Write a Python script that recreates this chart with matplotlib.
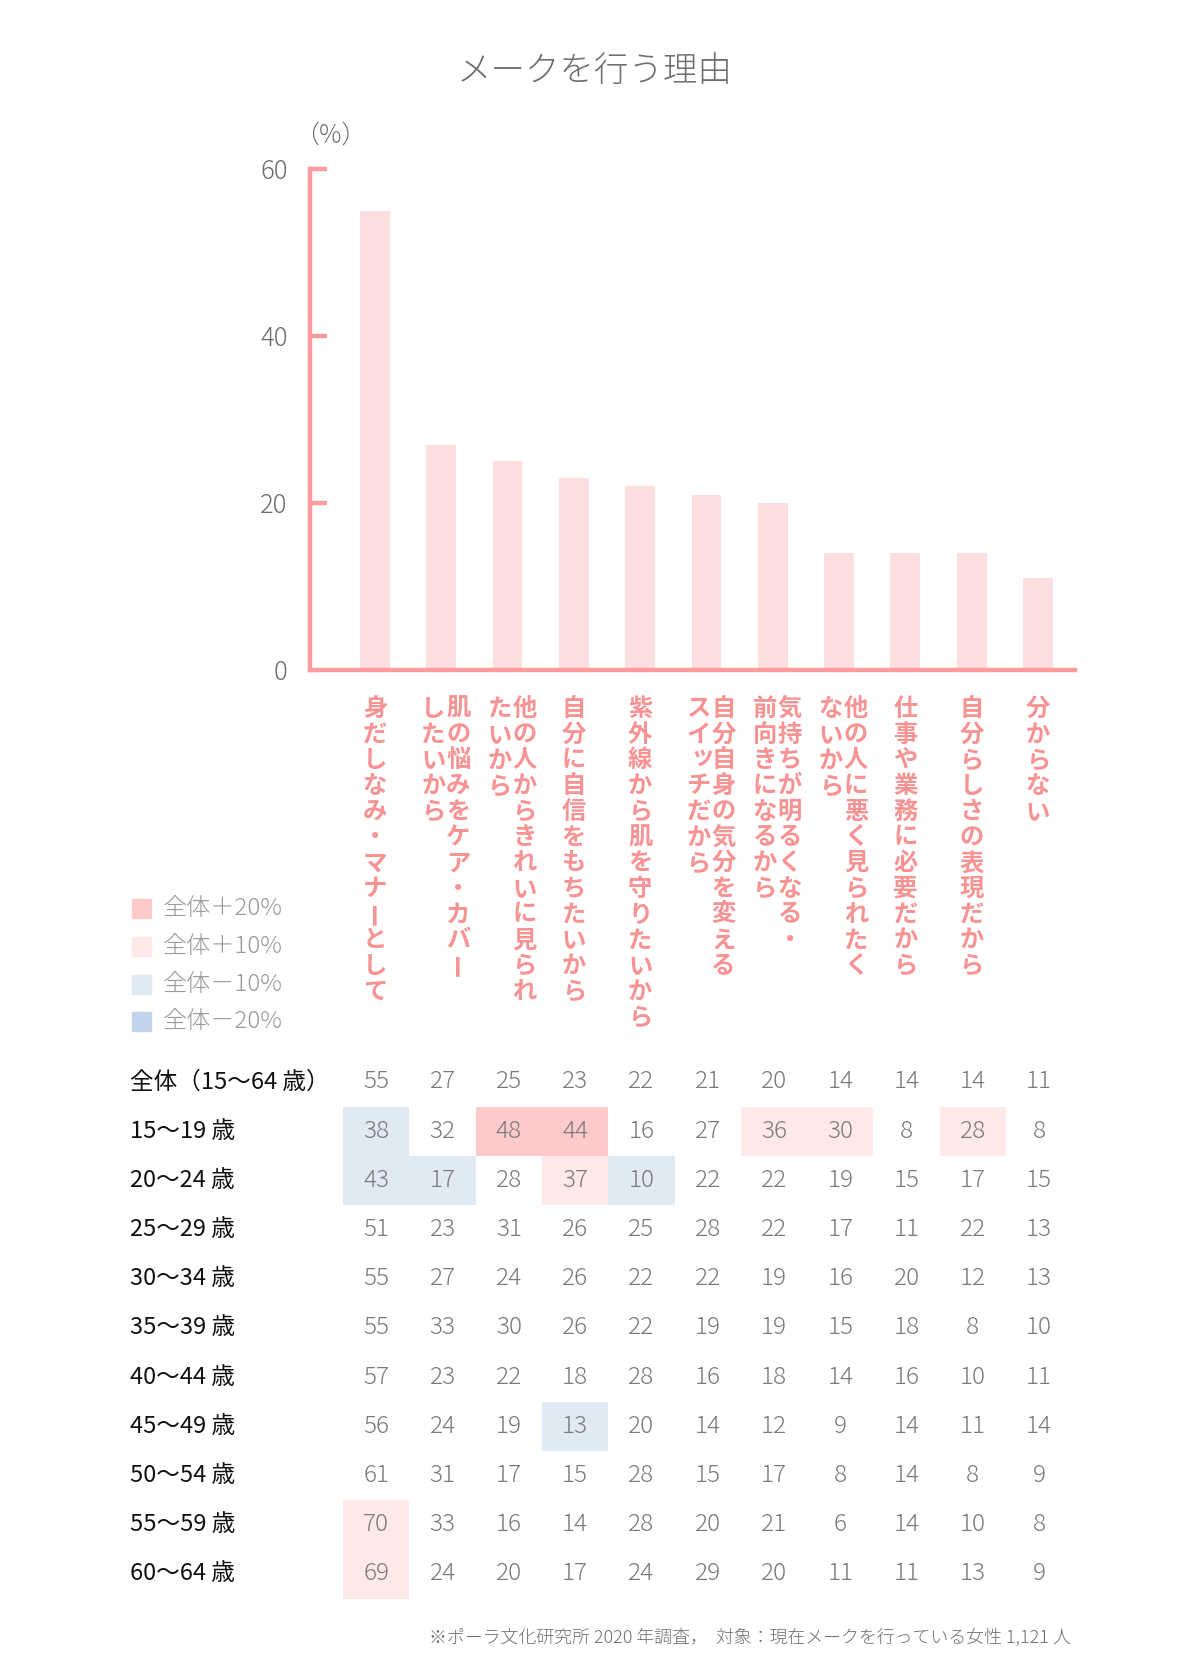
import matplotlib
matplotlib.use("Agg")
import matplotlib.pyplot as plt
import matplotlib.transforms as mtransforms
from matplotlib.patches import Rectangle

plt.rcParams['font.family'] = ['Noto Sans CJK JP', 'DejaVu Sans']

# ---- data ----
categories = [
    ["身だしなみ・マナーとして"],
    ["肌の悩みをケア・カバー", "したいから"],
    ["他の人からきれいに見られ", "たいから"],
    ["自分に自信をもちたいから"],
    ["紫外線から肌を守りたいから"],
    ["自分自身の気分を変える", "スイッチだから"],
    ["気持ちが明るくなる・", "前向きになるから"],
    ["他の人に悪く見られたく", "ないから"],
    ["仕事や業務に必要だから"],
    ["自分らしさの表現だから"],
    ["分からない"],
]
overall = [55, 27, 25, 23, 22, 21, 20, 14, 14, 14, 11]

row_labels = ["全体（15〜64 歳）", "15〜19 歳", "20〜24 歳", "25〜29 歳", "30〜34 歳",
              "35〜39 歳", "40〜44 歳", "45〜49 歳", "50〜54 歳", "55〜59 歳", "60〜64 歳"]
age_15_19 = [38, 32, 48, 44, 16, 27, 36, 30, 8, 28, 8]
age_20_24 = [43, 17, 28, 37, 10, 22, 22, 19, 15, 17, 15]
age_25_29 = [51, 23, 31, 26, 25, 28, 22, 17, 11, 22, 13]
age_30_34 = [55, 27, 24, 26, 22, 22, 19, 16, 20, 12, 13]
age_35_39 = [55, 33, 30, 26, 22, 19, 19, 15, 18, 8, 10]
age_40_44 = [57, 23, 22, 18, 28, 16, 18, 14, 16, 10, 11]
age_45_49 = [56, 24, 19, 13, 20, 14, 12, 9, 14, 11, 14]
age_50_54 = [61, 31, 17, 15, 28, 15, 17, 8, 14, 8, 9]
age_55_59 = [70, 33, 16, 14, 28, 20, 21, 6, 14, 10, 8]
age_60_64 = [69, 24, 20, 17, 24, 29, 20, 11, 11, 13, 9]
table_rows = [overall, age_15_19, age_20_24, age_25_29, age_30_34, age_35_39,
              age_40_44, age_45_49, age_50_54, age_55_59, age_60_64]

legend_labels = ["全体＋20%", "全体＋10%", "全体－10%", "全体－20%"]
legend_colors = ["#FFCACA", "#FFE8E8", "#E0EAF4", "#C3D5EA"]

# colours
PINK_AXIS = "#FF9B9B"
BAR_COLOR = "#FDDEDF"
LABEL_PINK = "#F79393"
GRAY = "#6E6E6E"
NUM_GRAY = "#7A7A7A"

W, H = 1200, 1680
fig = plt.figure(figsize=(12, 16.8), dpi=100)

def fx(px):
    return px / W

def fy(py):
    return 1 - py / H

# ---- bar chart ----
ax = fig.add_axes([fx(310), fy(670), fx(1075) - fx(310), fy(169) - fy(670)])
x = list(range(len(overall)))
ax.bar(x, overall, width=0.45, color=BAR_COLOR, zorder=1)
ax.set_xlim(-0.98, 10.56)
ax.set_ylim(0, 60)
for s in ["top", "right"]:
    ax.spines[s].set_visible(False)
for s in ["left", "bottom"]:
    ax.spines[s].set_color(PINK_AXIS)
    ax.spines[s].set_linewidth(3.2)
    ax.spines[s].set_capstyle("projecting")
    ax.spines[s].set_zorder(3)
ax.set_yticks([0, 20, 40, 60])
ax.tick_params(axis="y", direction="in", length=12, width=3.2, color=PINK_AXIS,
               labelsize=18.5, labelcolor=GRAY, pad=16)
ax.set_xticks([])
ax.tick_params(axis="x", length=0)
for t in ax.get_yticklabels():
    t.set_fontweight("light")
ax.get_yticklines()[0].set_visible(False)

fig.text(fx(330), fy(135), "（%）", ha="center", va="center", fontsize=18,
         color=GRAY, fontweight="light")
fig.text(fx(595), fy(71), "メークを行う理由", ha="center", va="center", fontsize=24.8,
         color=GRAY, fontweight="light")

# vertical category labels (one glyph at a time, columns right to left)
trans_x = mtransforms.blended_transform_factory(ax.transData, fig.transFigure)
pitch = 25.7
y0 = 709
for i, lines in enumerate(categories):
    offsets = [0] if len(lines) == 1 else [17, -8]
    for dx, line in zip(offsets, lines):
        for k, ch in enumerate(line):
            ddx, ddy = dx, 0
            rot = 0
            if ch == "ー":
                rot = 90
                ddy += 2
            if ch == "ッ":
                ddx += 4
                ddy += 4
            tr = trans_x + mtransforms.ScaledTranslation(ddx / 100, ddy / 100, fig.dpi_scale_trans)
            fig.text(i, fy(y0 + k * pitch), ch, transform=tr, ha="center", va="center",
                     rotation=rot, fontsize=17.5, color=LABEL_PINK, fontweight="bold")

# ---- legend ----
for k, (lab, col) in enumerate(zip(legend_labels, legend_colors)):
    yc = 909 + k * 37.6
    fig.add_artist(Rectangle((fx(132), fy(yc + 9.5)), fx(19), 19 / H, color=col,
                             transform=fig.transFigure))
    fig.text(fx(163), fy(yc), lab, ha="left", va="center", fontsize=17.4,
             color="#9A9A9A", fontweight="light")

# ---- table ----
tab = fig.add_axes([fx(310), fy(1598.6), fx(1075) - fx(310), 541.2 / H])
tab.set_xlim(-1.0, 10.54)
tab.set_ylim(10.5, -0.5)
tab.axis("off")

def cell_color(v, base):
    d = v - base
    if d >= 20:
        return legend_colors[0]
    if d >= 10:
        return legend_colors[1]
    if d <= -20:
        return legend_colors[3]
    if d <= -10:
        return legend_colors[2]
    return None

row_trans = mtransforms.blended_transform_factory(fig.transFigure, tab.transData)
for r, (lab, vals) in enumerate(zip(row_labels, table_rows)):
    fig.text(fx(130), r, lab, transform=row_trans, ha="left", va="center",
             fontsize=17, color="#111111")
    for j, v in enumerate(vals):
        if r > 0:
            c = cell_color(v, overall[j])
            if c:
                tab.add_patch(Rectangle((j - 0.5, r - 0.5), 1, 1, color=c, lw=0))
        tab.text(j, r, str(v), ha="center", va="center", fontsize=17.5,
                 color=NUM_GRAY, fontweight="light")

fig.text(fx(1071), fy(1638),
         "※ポーラ文化研究所 2020 年調査，  対象：現在メークを行っている女性 1,121 人",
         ha="right", va="center", fontsize=12.9, color=GRAY, fontweight="light")

fig.savefig("out.png", dpi=100)
